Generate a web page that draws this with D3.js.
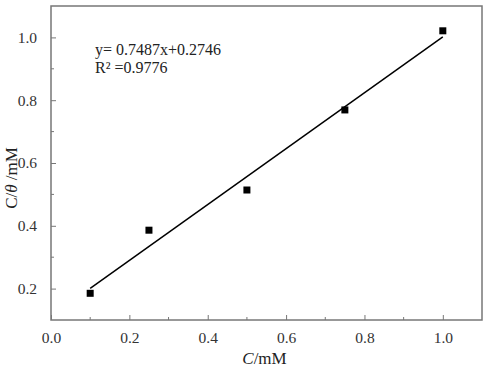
<!DOCTYPE html>
<html lang="en">
<head>
<meta charset="utf-8">
<script src="https://d3js.org/d3.v7.min.js"></script>
<style>
    body { margin: 0; background: white; }
    svg text { font-family: "Liberation Serif", "Times New Roman", serif; fill: #222; }
    .frame { fill: none; stroke: #777; stroke-width: 1.5; }
</style>
</head>
<body>
<svg width="500" height="372"></svg>
<script>
    // data
    const concX = [0.1, 0.25, 0.5, 0.75, 1.0];
    const ratioY = [0.185, 0.386, 0.514, 0.769, 1.021];
    // fitted line as drawn
    const fitX = [0.1, 1.0];
    const fitY = [0.201, 1.002];
    const xTicks = [0.0, 0.2, 0.4, 0.6, 0.8, 1.0];
    const yTicks = [0.2, 0.4, 0.6, 0.8, 1.0];
    const xMinor = [0.1, 0.3, 0.5, 0.7, 0.9];
    const yMinor = [0.3, 0.5, 0.7, 0.9];
    const eqLines = ['y= 0.7487x+0.2746', 'R\u00b2 =0.9776'];

    const margin = {top: 6, right: 18, bottom: 52, left: 51};
    const width = 500 - margin.left - margin.right;
    const height = 372 - margin.top - margin.bottom;

    const svg = d3.select('svg')
        .append('g')
        .attr('transform', `translate(${margin.left}, ${margin.top})`);

    const x = d3.scaleLinear().domain([0, 1.1]).range([0, width]);
    const y = d3.scaleLinear().domain([0.1, 1.1]).range([height, 0]);

    // frame
    svg.append('rect')
        .attr('class', 'frame')
        .attr('width', width)
        .attr('height', height);

    // x axis, ticks pointing inward
    const xAxis = svg.append('g')
        .attr('transform', `translate(0, ${height})`)
        .call(d3.axisBottom(x).tickValues(xTicks).tickSize(-5).tickPadding(12).tickFormat(d3.format('.1f')));
    xAxis.append('g').selectAll('line')
        .data(xMinor)
        .join('line')
        .attr('x1', d => x(d)).attr('x2', d => x(d))
        .attr('y1', 0).attr('y2', -3)
        .attr('stroke', '#777');

    // y axis
    const yAxis = svg.append('g')
        .call(d3.axisLeft(y).tickValues(yTicks).tickSize(-5).tickPadding(14).tickFormat(d3.format('.1f')));
    yAxis.append('g').selectAll('line')
        .data(yMinor)
        .join('line')
        .attr('y1', d => y(d)).attr('y2', d => y(d))
        .attr('x1', 0).attr('x2', 3)
        .attr('stroke', '#777');

    svg.selectAll('.domain').remove();
    svg.selectAll('.tick line').attr('stroke', '#777');
    svg.selectAll('.tick text')
        .style('font-size', '15.5px')
        .style('fill', '#333');

    // fit line
    const line = d3.line()
        .x(d => x(d[0]))
        .y(d => y(d[1]));
    svg.append('path')
        .datum(d3.zip(fitX, fitY))
        .attr('d', line)
        .attr('fill', 'none')
        .attr('stroke', 'black')
        .attr('stroke-width', 1.5);

    // points
    const size = 7;
    svg.selectAll('rect.pt')
        .data(d3.zip(concX, ratioY))
        .join('rect')
        .attr('class', 'pt')
        .attr('x', d => x(d[0]) - size / 2)
        .attr('y', d => y(d[1]) - size / 2)
        .attr('width', size)
        .attr('height', size)
        .attr('fill', 'black');

    // equation
    svg.append('g').selectAll('text')
        .data(eqLines)
        .join('text')
        .attr('x', 44)
        .attr('y', (d, i) => 49 + i * 18)
        .style('font-size', '16px')
        .text(d => d);

    // axis titles
    const xt = svg.append('text')
        .attr('x', width / 2 - 2)
        .attr('y', height + 44)
        .attr('text-anchor', 'middle')
        .style('font-size', '17px');
    xt.append('tspan').style('font-style', 'italic').text('C');
    xt.append('tspan').text('/mM');

    const yt = svg.append('text')
        .attr('transform', `translate(${-34}, ${y(0.6) + 15}) rotate(-90)`)
        .attr('text-anchor', 'middle')
        .style('font-size', '17px');
    yt.append('tspan').text('C/');
    yt.append('tspan').style('font-style', 'italic').text('\u03b8');
    yt.append('tspan').text(' /mM');
</script>
</body>
</html>
